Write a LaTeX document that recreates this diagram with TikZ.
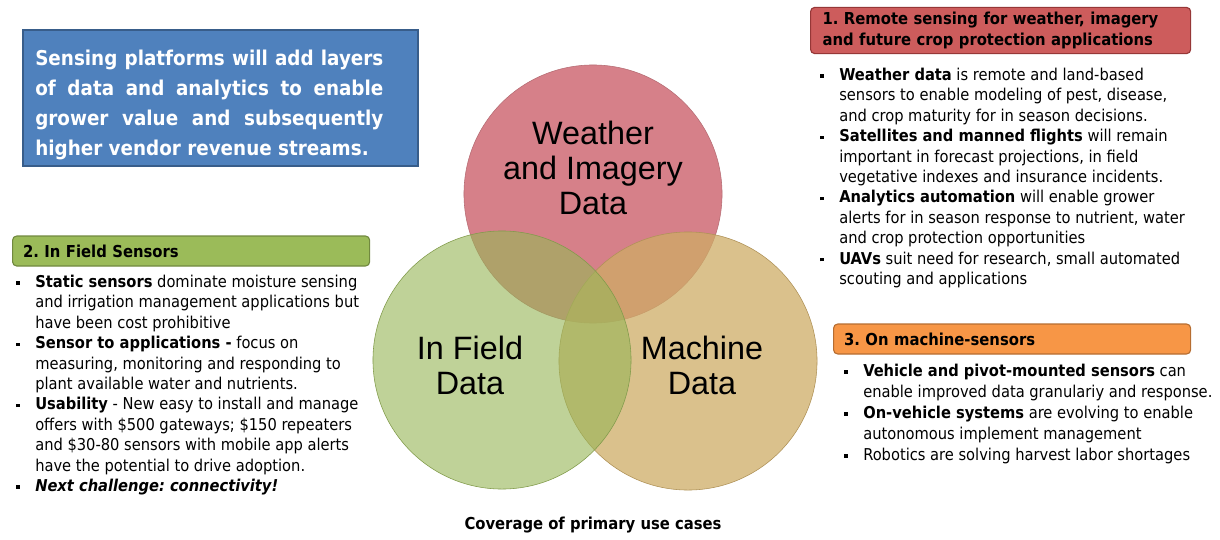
\documentclass[tikz,border=0pt]{standalone}
\usepackage{fontspec}
\setmainfont{DejaVu Sans Condensed}
\newfontfamily\vennfont{Liberation Sans}
\usetikzlibrary{positioning}
\frenchspacing

\definecolor{claimblue}{RGB}{79,129,189}
\definecolor{claimedge}{RGB}{56,93,138}
\definecolor{hdrred}{RGB}{205,92,92}
\definecolor{hdrrededge}{RGB}{150,55,55}
\definecolor{hdrgreen}{RGB}{155,187,89}
\definecolor{hdrgreenedge}{RGB}{113,137,63}
\definecolor{hdrorange}{RGB}{247,150,70}
\definecolor{hdroredge}{RGB}{182,109,49}
\definecolor{vennred}{RGB}{214,128,137}
\definecolor{venntan}{RGB}{206,172,102}
\definecolor{venngreen}{RGB}{152,182,88}

\newcommand{\sqb}{\makebox[13.5pt][l]{\raisebox{0.3ex}{\rule{2.4pt}{2.4pt}}}}

\tikzset{
  venn/.style={circle, minimum size=6.45cm, inner sep=0pt, text opacity=1},
  vennlabel/.style={font=\vennfont\fontsize{23}{24.8}\selectfont, align=center},
  hdr/.style={rounded corners=3pt, line width=0.8pt, anchor=west, inner xsep=0.25cm,
    font=\bfseries\fontsize{11.7}{14.9}\selectfont, align=left},
  bullets/.style={anchor=base west, inner sep=0pt, font=\fontsize{11.6}{14.5}\selectfont}
}

\begin{document}
\begin{tikzpicture}[x=0.025cm, y=-0.025cm]
\useasboundingbox (0,0) rectangle (1220,539);

% claim box
\node[draw=claimedge, fill=claimblue, line width=0.8pt, minimum width=9.875cm, minimum height=3.4cm] (claim) at (220.5,98) {};
\node[anchor=west, text=white, inner sep=0pt, align=left, font=\bfseries\fontsize{14.5}{21.3}\selectfont] (claimtxt) at (35,105) {%
\makebox[8.7cm][s]{Sensing platforms will add layers}\\
\makebox[8.7cm][s]{of data and analytics to enable}\\
\makebox[8.7cm][s]{grower value and subsequently}\\
higher vendor revenue streams.};

% venn circles
\node[venn, fill=vennred, draw=vennred!85!black, line width=0.4pt] (wx) at (593,194) {};
\node[venn, fill=venntan, fill opacity=0.75, draw=venntan!85!black, line width=0.4pt] (mach) at (688,361) {};
\node[venn, fill=venngreen, fill opacity=0.62, draw=venngreen!85!black, line width=0.4pt] (field) at (502,360) {};

\node[vennlabel] (wxlabel) at (593,168) {Weather\\and Imagery\\Data};
\node[vennlabel] (fieldlabel) at (470,365) {In Field\\Data};
\node[vennlabel] (machlabel) at (702,365) {Machine\\Data};

% 1. remote sensing
\node[hdr, draw=hdrrededge, fill=hdrred, minimum width=9.5cm, minimum height=1.125cm, text width=8.9cm] (remote) at (810,30.5)
  {1. Remote sensing for weather, imagery\\and future crop protection applications};
\node[bullets] (remotelist) at (820,80.5) {%
\begin{tabular}[t]{@{}l@{}l@{}}
\sqb & \textbf{Weather data} is remote and land-based\\
 & sensors to enable modeling of pest, disease,\\
 & and crop maturity for in season decisions.\\
\sqb & \textbf{Satellites and manned flights} will remain\\
 & important in forecast projections, in field\\
 & vegetative indexes and insurance incidents.\\
\sqb & \textbf{Analytics automation} will enable grower\\
 & alerts for in season response to nutrient, water\\
 & and crop protection opportunities\\
\sqb & \textbf{UAVs} suit need for research, small automated\\
 & scouting and applications
\end{tabular}};

% 2. in field sensors
\node[hdr, draw=hdrgreenedge, fill=hdrgreen, minimum width=8.925cm, minimum height=0.75cm, text width=8.4cm] (infield) at (12,251)
  {2. In Field Sensors};
\node[bullets] (infieldlist) at (16,287.5) {%
\begin{tabular}[t]{@{}l@{}l@{}}
\sqb & \textbf{Static sensors} dominate moisture sensing\\
 & and irrigation management applications but\\
 & have been cost prohibitive\\
\sqb & \textbf{Sensor to applications -} focus on\\
 & measuring, monitoring and responding to\\
 & plant available water and nutrients.\\
\sqb & \textbf{Usability} - New easy to install and manage\\
 & offers with \$500 gateways; \$150 repeaters\\
 & and \$30-80 sensors with mobile app alerts\\
 & have the potential to drive adoption.\\
\sqb & \textbf{\itshape Next challenge: connectivity!}
\end{tabular}};

% 3. on machine sensors
\node[hdr, draw=hdroredge, fill=hdrorange, minimum width=8.925cm, minimum height=0.75cm, text width=8.4cm] (onmach) at (833,339)
  {3. On machine-sensors};
\node[bullets, font=\fontsize{11.6}{14.9}\selectfont] (onmachlist) at (844,376.5) {%
\begin{tabular}[t]{@{}l@{}l@{}}
\sqb & \textbf{Vehicle and pivot-mounted sensors} can\\
 & enable improved data granulariy and response.\\
\sqb & \textbf{On-vehicle systems} are evolving to enable\\
 & autonomous implement management\\
\sqb & Robotics are solving harvest labor shortages
\end{tabular}};

\node[font=\bfseries\fontsize{11.7}{13}\selectfont] (caption) at (593,525) {Coverage of primary use cases};

\end{tikzpicture}
\end{document}
